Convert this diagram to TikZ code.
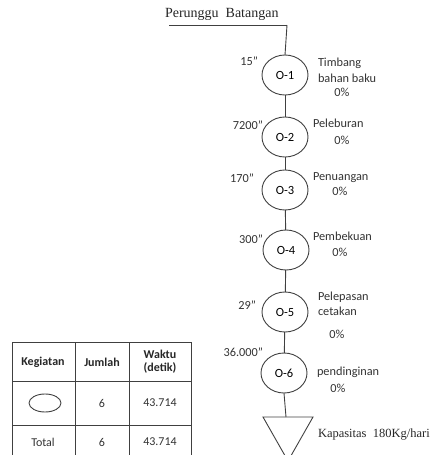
\documentclass[tikz,border=0pt]{standalone}
\usepackage{fontspec}
\setmainfont{Carlito}
\newfontfamily\seriffont{Liberation Serif}
\usetikzlibrary{shapes.geometric}
\begin{document}
\begin{tikzpicture}[x=1pt,y=-1pt,
  every node/.style={inner sep=0pt,outer sep=0pt},
  ln/.style={line width=0.9pt,draw=black!75},
  op/.style={ellipse,ln,minimum width=46pt,minimum height=40pt,font=\fontsize{12.5}{12.5}\selectfont},
  lbl/.style={font=\fontsize{12.3}{12.3}\selectfont,text=black!80},
  ser/.style={font=\seriffont\fontsize{14}{14}\selectfont,text=black!85},
  th/.style={font=\bfseries\fontsize{12}{13}\selectfont,align=center,text=black!85},
  td/.style={font=\fontsize{12}{12}\selectfont,text=black!80}]
\useasboundingbox (0,0) rectangle (432,455);
% top line
\node[ser,anchor=base west] (src) at (165,17) {Perunggu\ \ Batangan};
\coordinate (hl) at (169,25);
\coordinate (hr) at (287,25);
\draw[ln] (hl) -- (hr);
% operations
\node[op] (o1) at (285,75) {O-1};
\node[op] (o2) at (285,137) {O-2};
\node[op] (o3) at (285,190) {O-3};
\node[op] (o4) at (286,250) {O-4};
\node[op] (o5) at (285,312) {O-5};
\node[op] (o6) at (284,373) {O-6};
\coordinate (tl) at (263,417);
\coordinate (tr) at (313,417);
\coordinate (tt) at (286,417);
\coordinate (tb) at (288,461);
\draw[ln] (hr) -- (o1.north);
\draw[ln] (o1) -- (o2);
\draw[ln] (o2) -- (o3);
\draw[ln] (o3) -- (o4);
\draw[ln] (o4) -- (o5);
\draw[ln] (o5) -- (o6);
\draw[ln] (o6.south) -- (tt);
\draw[ln] (tl) -- (tr) -- (tb) -- cycle;
% times
\node[lbl,anchor=east] (t1) at (258,61) {15"};
\node[lbl,anchor=east] (t2) at (263,125) {7200"};
\node[lbl,anchor=east] (t3) at (254,178) {170"};
\node[lbl,anchor=east] (t4) at (263,239) {300"};
\node[lbl,anchor=east] (t5) at (256,305) {29"};
\node[lbl,anchor=east] (t6) at (263,352) {36.000"};
% descriptions
\node[lbl,anchor=west] (d1a) at (318,63) {Timbang};
\node[lbl,anchor=west] (d1b) at (318,78) {bahan baku};
\node[lbl] (d1c) at (342,92) {0\%};
\node[lbl,anchor=west] (d2a) at (313,123) {Peleburan};
\node[lbl] (d2b) at (342,140) {0\%};
\node[lbl,anchor=west] (d3a) at (313,178) {Penuangan};
\node[lbl] (d3b) at (340,191) {0\%};
\node[lbl,anchor=west] (d4a) at (313,236) {Pembekuan};
\node[lbl] (d4b) at (340,252) {0\%};
\node[lbl,anchor=west] (d5a) at (318,297) {Pelepasan};
\node[lbl,anchor=west] (d5b) at (318,311) {cetakan};
\node[lbl] (d5c) at (337,334) {0\%};
\node[lbl,anchor=west] (d6a) at (317,372) {pendinginan};
\node[lbl] (d6b) at (338,388) {0\%};
\node[ser,font=\seriffont\fontsize{12.5}{12.5}\selectfont,anchor=base west] (cap) at (318,437) {Kapasitas\ \ 180Kg/hari};
% table
\draw[ln] (12,460) -- (12,342) -- (191,342) -- (191,460);
\draw[ln] (75,342) -- (75,460);
\draw[ln] (129,342) -- (129,460);
\draw[ln] (12,381) -- (191,381);
\draw[ln] (12,425) -- (191,425);
\node[th] (h1) at (43,362) {Kegiatan};
\node[th] (h2) at (102,362) {Jumlah};
\node[th] (h3) at (160,362) {Waktu\\(detik)};
\node[ellipse,ln,minimum width=32pt,minimum height=18pt] (sym) at (45,403) {};
\node[td] (r1b) at (102,403) {6};
\node[td] (r1c) at (160,403) {43.714};
\node[td] (r2a) at (43,442) {Total};
\node[td] (r2b) at (102,442) {6};
\node[td] (r2c) at (160,442) {43.714};
\end{tikzpicture}
\end{document}
